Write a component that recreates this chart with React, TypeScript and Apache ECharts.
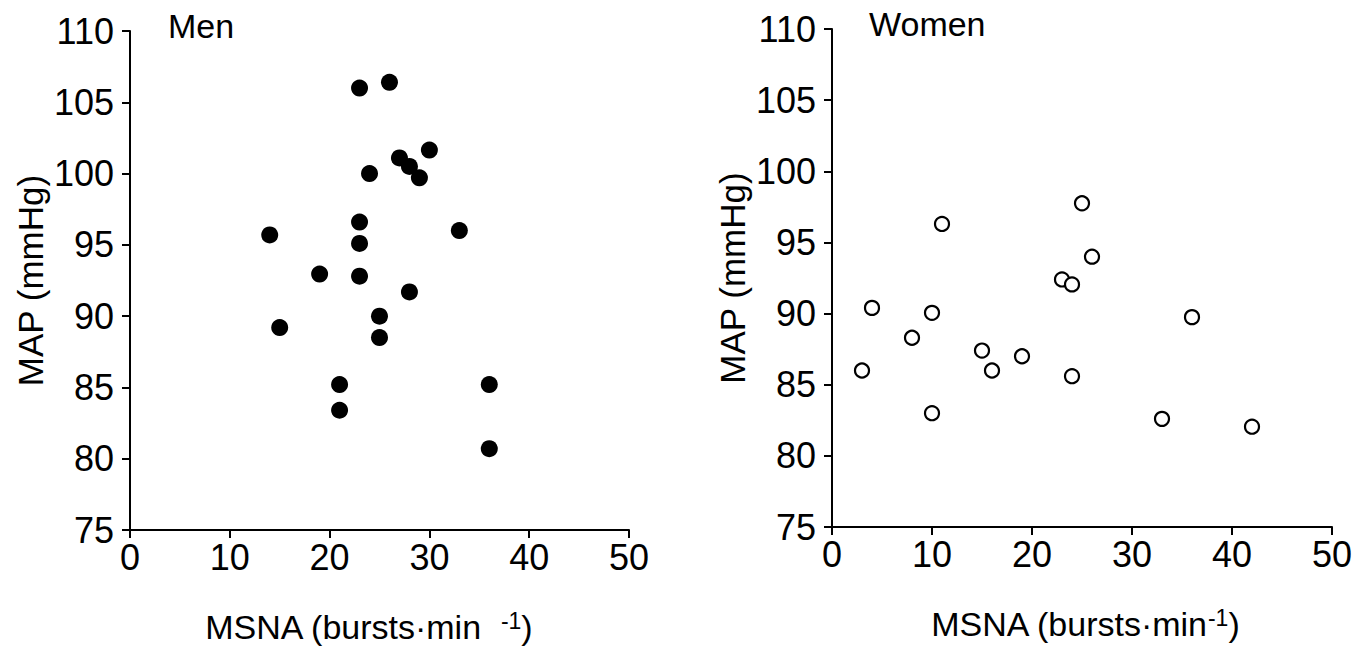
import React, { useEffect, useRef } from "react";
import * as echarts from "echarts";

const menMSNA = [23, 26, 27, 28, 29, 30, 24, 23, 23, 14, 33, 19, 23, 28, 25, 25, 15, 21, 21, 36, 36];
const menMAP = [106.0, 106.4, 101.1, 100.5, 99.7, 101.65, 100.0, 96.6, 95.1, 95.7, 96.0, 92.95, 92.8, 91.7, 90.0, 88.5, 89.2, 85.2, 83.4, 85.2, 80.7];

const womenMSNA = [11, 25, 26, 23, 24, 4, 10, 36, 8, 15, 19, 3, 16, 24, 10, 33, 42];
const womenMAP = [96.3, 97.75, 94.0, 92.4, 92.05, 90.4, 90.05, 89.75, 88.3, 87.4, 87.0, 86.0, 86.0, 85.6, 83.0, 82.6, 82.05];

const xTicks = { min: 0, max: 50, interval: 10 };
const yTicks = { min: 75, max: 110, interval: 5 };
const panelTitles = ["Men", "Women"];
const xAxisNames = ["MSNA (bursts·min  {sup|-1})", "MSNA (bursts·min{sup|-1})"];
const yAxisName = "MAP (mmHg)";

const FONT = "'Liberation Sans', Arial, Helvetica, sans-serif";

export default function App() {
  const ref = useRef<HTMLDivElement>(null);
  useEffect(() => {
    if (!ref.current) return;
    const chart = echarts.init(ref.current, undefined, { renderer: "svg" });
    const axisLine = { show: true, lineStyle: { color: "#000", width: 2 } };
    const axisTick = { show: true, length: 8, lineStyle: { color: "#000", width: 2 } };
    const namePads = [[0, 22, 0, 0], [0, 0, 0, 6]];
    const mkX = (i: number) => ({
      type: "value",
      gridIndex: i,
      min: xTicks.min,
      max: xTicks.max,
      interval: xTicks.interval,
      axisLine,
      axisTick,
      splitLine: { show: false },
      axisLabel: { color: "#000", fontSize: 36, fontFamily: FONT, margin: 9 },
      name: xAxisNames[i],
      nameLocation: "middle",
      nameGap: 79,
      nameTextStyle: {
        color: "#000",
        fontSize: 34,
        fontFamily: FONT,
        lineHeight: 36,
        padding: namePads[i],
        rich: {
          sup: { fontSize: 23, fontFamily: FONT, color: "#000", verticalAlign: "top", lineHeight: 23 },
        },
      },
    });
    const mkY = (i: number) => ({
      type: "value",
      gridIndex: i,
      min: yTicks.min,
      max: yTicks.max,
      interval: yTicks.interval,
      axisLine,
      axisTick,
      splitLine: { show: false },
      axisLabel: { color: "#000", fontSize: 36, fontFamily: FONT, margin: 16 },
      name: yAxisName,
      nameLocation: "middle",
      nameGap: 82,
      nameTextStyle: { color: "#000", fontSize: 35, fontFamily: FONT },
    });
    chart.setOption({
      animation: false,
      backgroundColor: "#fff",
      title: [
        { text: panelTitles[0], left: 168, top: 9, padding: 0, textStyle: { color: "#000", fontSize: 34, fontWeight: "normal", fontFamily: FONT } },
        { text: panelTitles[1], left: 869, top: 7, padding: 0, textStyle: { color: "#000", fontSize: 34, fontWeight: "normal", fontFamily: FONT } },
      ],
      grid: [
        { left: 130, top: 31, width: 499, height: 499 },
        { left: 832, top: 29, width: 500, height: 498 },
      ],
      xAxis: [mkX(0), mkX(1)],
      yAxis: [mkY(0), mkY(1)],
      series: [
        {
          type: "scatter",
          xAxisIndex: 0,
          yAxisIndex: 0,
          symbol: "circle",
          symbolSize: 17,
          itemStyle: { color: "#000", opacity: 1 },
          data: menMSNA.map((x, k) => [x, menMAP[k]]),
        },
        {
          type: "scatter",
          xAxisIndex: 1,
          yAxisIndex: 1,
          symbol: "circle",
          symbolSize: 14,
          itemStyle: { color: "#fff", borderColor: "#000", borderWidth: 2.2, opacity: 1 },
          data: womenMSNA.map((x, k) => [x, womenMAP[k]]),
        },
      ],
    });
    return () => chart.dispose();
  }, []);
  return (
    <div
      ref={ref}
      style={{ position: "fixed", left: 0, top: 0, width: 1371, height: 650, background: "#fff" }}
    />
  );
}
